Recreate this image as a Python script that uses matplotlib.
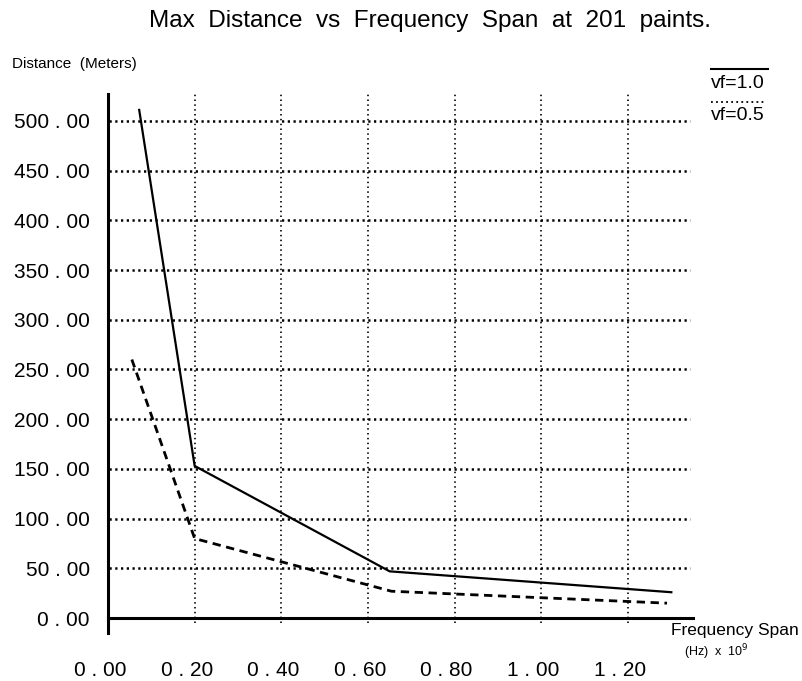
import matplotlib
matplotlib.use("Agg")
import matplotlib.pyplot as plt
import matplotlib.transforms as mtransforms
from matplotlib.lines import Line2D

plt.rcParams['font.family'] = ['Liberation Sans', 'DejaVu Sans']

# data (span in GHz, distance in metres)
span_vf10 = [0.072, 0.20, 0.65, 1.30]
dist_vf10 = [511, 153, 47, 26]
span_vf05 = [0.055, 0.20, 0.654, 1.29]
dist_vf05 = [260, 80, 27, 15]

x_ticks = [0.0, 0.2, 0.4, 0.6, 0.8, 1.0, 1.2]
x_labels = ['0 . 00', '0 . 20', '0 . 40', '0 . 60', '0 . 80', '1 . 00', '1 . 20']
y_ticks = [0, 50, 100, 150, 200, 250, 300, 350, 400, 450, 500]
y_labels = ['0 . 00', '50 . 00', '100 . 00', '150 . 00', '200 . 00', '250 . 00',
            '300 . 00', '350 . 00', '400 . 00', '450 . 00', '500 . 00']

fig = plt.figure(figsize=(8.03, 6.81), dpi=100)
# axes box: left axis at x=108px, y from -15 to ~527
ax = fig.add_axes([108 / 803, 48 / 681, (693 - 108) / 803, (633 - 94) / 681])
ax.set_xlim(0, 1.35)
ax.set_ylim(-15, 527)

for s in ['top', 'right', 'bottom']:
    ax.spines[s].set_visible(False)
ax.spines['left'].set_linewidth(2.2)

# dotted grid
ax.vlines(x_ticks[1:], -5, 527, colors='k', linestyles=[(0, (0.9, 2.0))], linewidth=1.2)
ax.hlines(y_ticks[1:], 0.003, 1.343, colors='k', linestyles=[(0, (0.9, 1.4))], linewidth=1.8)
ax.axhline(0, color='k', linewidth=2.2, clip_on=False)

ax.plot(span_vf10, dist_vf10, color='k', linewidth=1.6, solid_joinstyle='miter')
ax.plot(span_vf05, dist_vf05, color='k', linewidth=2.0, linestyle=(0, (3, 2)))

ax.set_xticks(x_ticks, x_labels, fontsize=15)
ax.set_yticks(y_ticks, y_labels, fontsize=15)
ax.tick_params(axis='both', length=0)
ax.tick_params(axis='y', pad=13)
ax.tick_params(axis='x', pad=20)
off = mtransforms.ScaledTranslation(-8 / 100, 0, fig.dpi_scale_trans)
for lab in ax.get_xticklabels():
    lab.set_transform(lab.get_transform() + off)

fig.text(430 / 803, 1 - 21 / 681, 'Max  Distance  vs  Frequency  Span  at  201  paints.',
         ha='center', va='center', fontsize=17.5)
fig.text(12 / 803, 1 - 64 / 681, 'Distance  (Meters)', ha='left', va='center', fontsize=11)
fig.text(799 / 803, 1 - 631 / 681, 'Frequency Span', ha='right', va='center', fontsize=12.5)
fig.text(749 / 803, 1 - 652 / 681, r'(Hz)  x  10$^{9}$', ha='right', va='center', fontsize=9)

# legend drawn by hand in the top-right corner
fig.add_artist(Line2D([711 / 803, 768 / 803], [1 - 69 / 681, 1 - 69 / 681],
                      transform=fig.transFigure, color='k', linewidth=1.5))
fig.text(711 / 803, 1 - 84 / 681, 'vf=1.0', ha='left', va='center', fontsize=14)
fig.add_artist(Line2D([711 / 803, 766 / 803], [1 - 102 / 681, 1 - 102 / 681],
                      transform=fig.transFigure, color='k', linewidth=1.3,
                      linestyle=(0, (1, 1.8))))
fig.text(711 / 803, 1 - 116 / 681, 'vf=0.5', ha='left', va='center', fontsize=14)

fig.savefig('out.png', dpi=100)
